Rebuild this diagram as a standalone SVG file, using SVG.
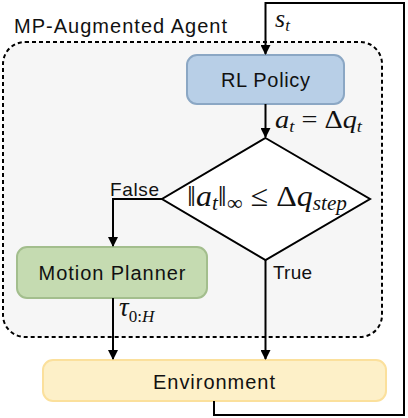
<svg xmlns="http://www.w3.org/2000/svg" width="408" height="418" viewBox="0 0 408 418">
<defs>
<marker id="arr" markerWidth="10" markerHeight="10" refX="9" refY="5" orient="auto" markerUnits="userSpaceOnUse">
<path d="M0,0 L10,5 L0,10 z" fill="#000"/>
</marker>
<style>
.sans{font-family:"Liberation Sans",Arial,sans-serif;fill:#111}
.math{font-family:"Liberation Serif","Times New Roman",serif;fill:#111}
.conn{fill:none;stroke:#000;stroke-width:2}
</style>
</defs>
<rect width="408" height="418" fill="#fff"/>
<g id="agent">
<rect x="3" y="42" width="379" height="295" rx="22" fill="#f6f6f6" stroke="#000" stroke-width="2" stroke-dasharray="4,3"/>
<text class="sans" x="14" y="33" font-size="20" textLength="213">MP-Augmented Agent</text>
</g>
<g id="rl-policy">
<rect x="187" y="55" width="157" height="49" rx="10" fill="#b8cfe7" stroke="#8ba7c4" stroke-width="2"/>
<text class="sans" x="265.5" y="87" font-size="20" text-anchor="middle" textLength="89">RL Policy</text>
</g>
<g id="decision">
<polygon points="265.5,138 370,199 265.5,260 162,199" fill="#fff" stroke="#000" stroke-width="2"/>
<text class="math" x="187" y="206" font-size="30" textLength="160" lengthAdjust="spacingAndGlyphs">‖<tspan font-style="italic">a</tspan><tspan font-style="italic" font-size="20" dy="4">t</tspan><tspan dy="-4">‖</tspan><tspan font-size="21" dy="4">∞</tspan><tspan dy="-4"> ≤ Δ</tspan><tspan font-style="italic">q</tspan><tspan font-style="italic" font-size="20" dy="4">step</tspan></text>
</g>
<g id="motion-planner">
<rect x="17" y="247" width="190" height="51" rx="10" fill="#c5dbb1" stroke="#a3be8d" stroke-width="2"/>
<text class="sans" x="112" y="280" font-size="20" text-anchor="middle" textLength="147">Motion Planner</text>
</g>
<g id="environment">
<rect x="43" y="360" width="343" height="41" rx="10" fill="#fdf0c8" stroke="#fbe09c" stroke-width="2"/>
<text class="sans" x="214" y="389" font-size="20" text-anchor="middle" textLength="122">Environment</text>
</g>
<g id="connectors">
<polyline class="conn" points="214,401 214,415 404,415 404,3 265.5,3 265.5,54" marker-end="url(#arr)"/>
<line class="conn" x1="265.5" y1="104" x2="265.5" y2="137" marker-end="url(#arr)"/>
<polyline class="conn" points="162,199 113,199 113,246" marker-end="url(#arr)"/>
<line class="conn" x1="265.5" y1="260" x2="265.5" y2="359" marker-end="url(#arr)"/>
<line class="conn" x1="113" y1="298" x2="113" y2="359" marker-end="url(#arr)"/>
<text class="math" x="275" y="27" font-size="26" font-style="italic">s<tspan font-size="17" dy="4">t</tspan></text>
<text class="math" x="275" y="128" font-size="26" textLength="87" lengthAdjust="spacingAndGlyphs"><tspan font-style="italic">a</tspan><tspan font-style="italic" font-size="17" dy="4">t</tspan><tspan dy="-4"> = Δ</tspan><tspan font-style="italic">q</tspan><tspan font-style="italic" font-size="17" dy="4">t</tspan></text>
<text class="sans" x="110" y="196" font-size="19" textLength="49">False</text>
<text class="sans" x="273" y="279" font-size="19" textLength="39">True</text>
<text class="math" x="119" y="316" font-size="27" font-style="italic">τ<tspan font-style="normal" font-size="17" dy="6">0:</tspan><tspan font-size="17">H</tspan></text>
</g>
</svg>
